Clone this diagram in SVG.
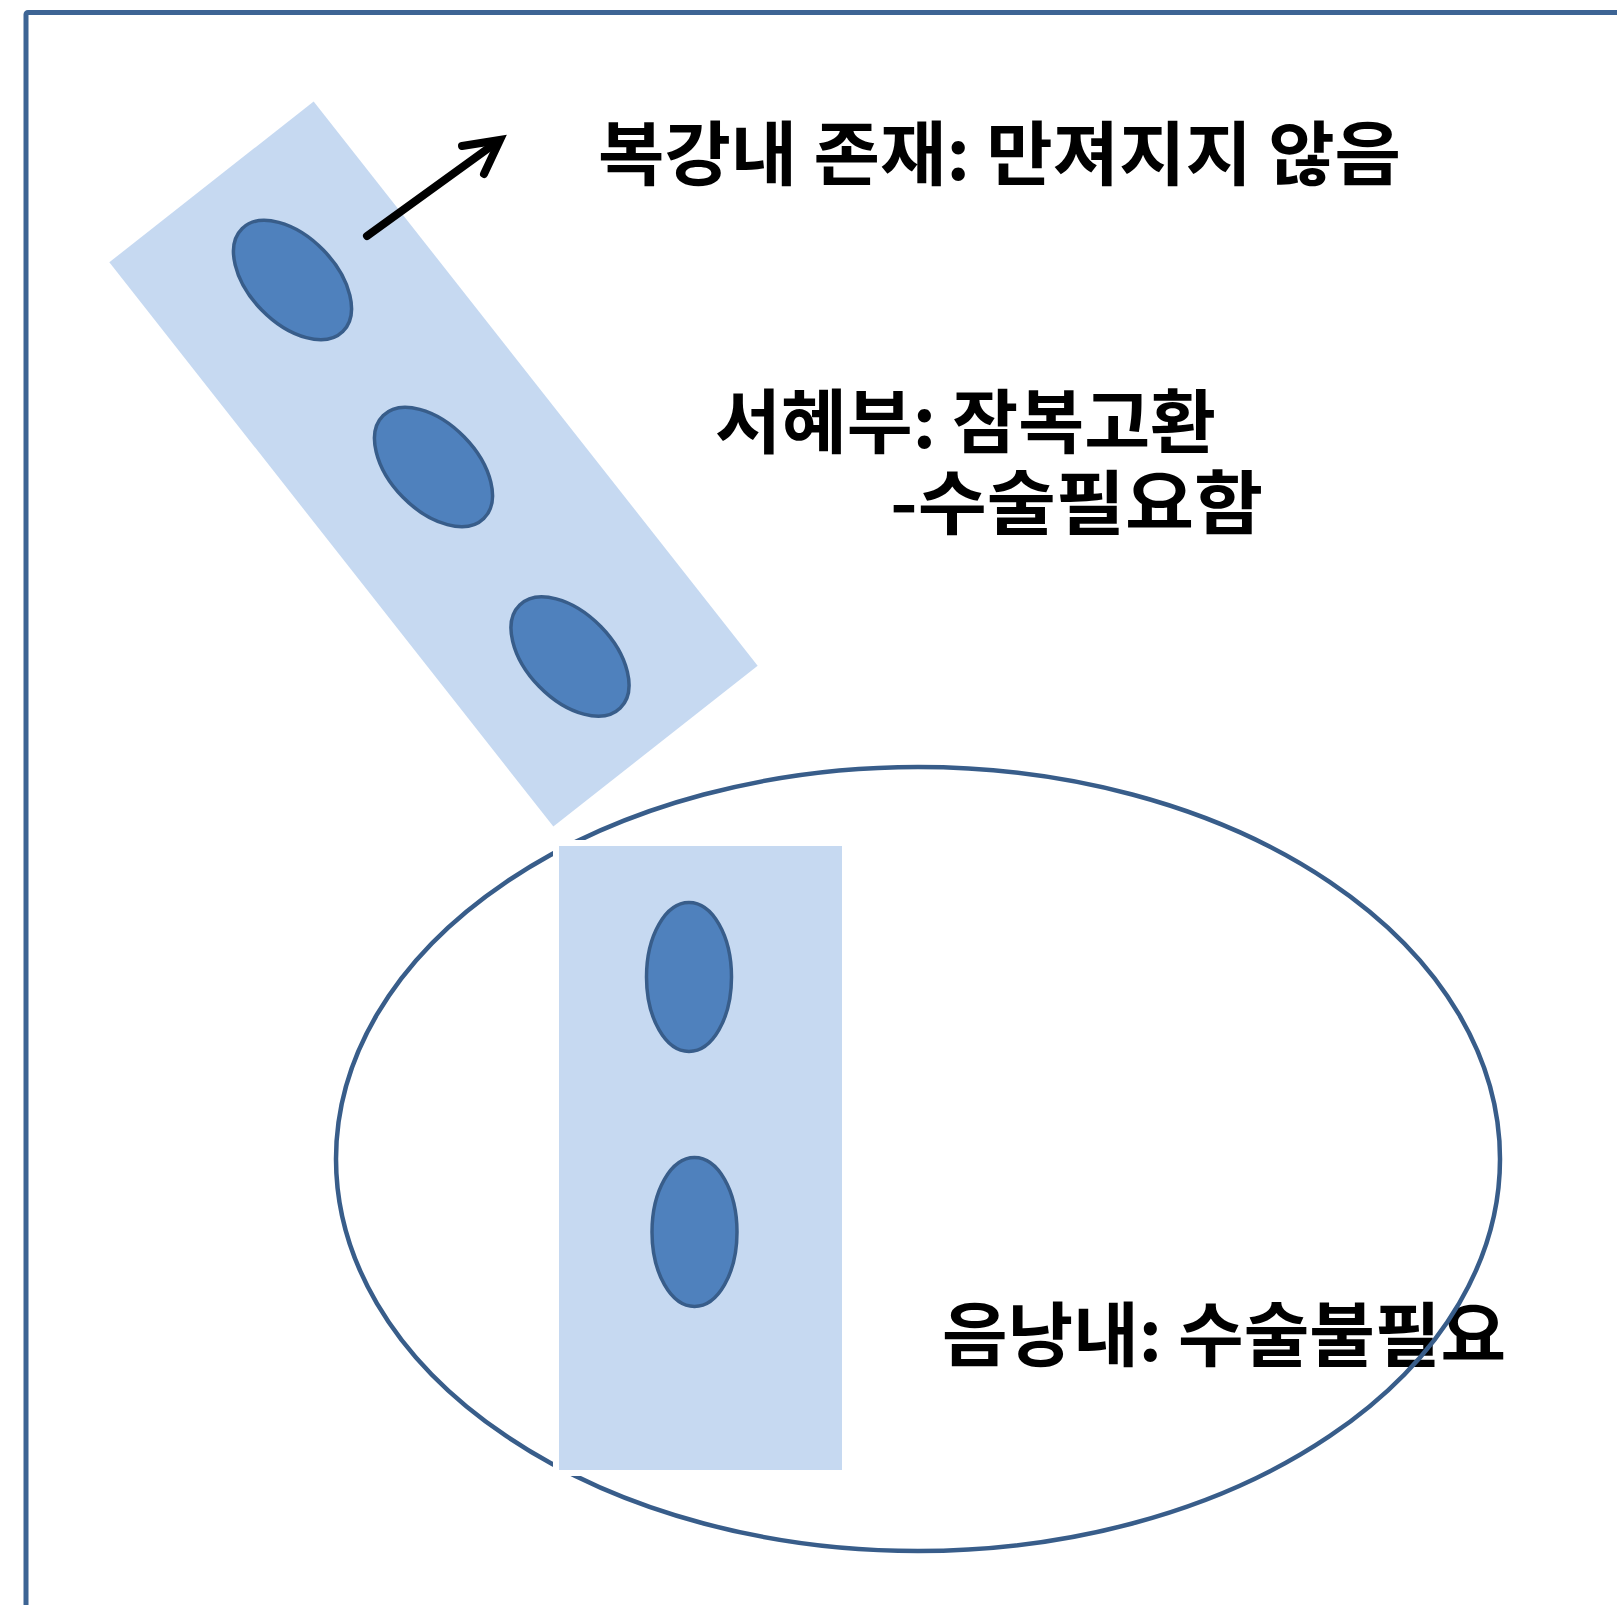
<svg xmlns="http://www.w3.org/2000/svg" width="1617" height="1605" viewBox="0 0 1617 1605">
<style>
  .frame { fill: none; stroke: #3d6494; stroke-width: 5; }
  .band { fill: #c6d9f1; stroke: #ffffff; stroke-width: 12; paint-order: stroke; }
  .cell { fill: #4f81bd; stroke: #385d8a; stroke-width: 3.5; }
  .sac { fill: none; stroke: #385d8a; stroke-width: 4.5; }
  .label { font-family: "Noto Sans CJK KR", "Noto Sans", sans-serif; font-weight: 700; font-size: 70px; fill: #000000; }
  .arrow { fill: none; stroke: #000000; stroke-width: 8; stroke-linecap: round; stroke-linejoin: miter; }
</style>
<rect x="0" y="0" width="1617" height="1605" fill="#ffffff"/>
<rect id="frame" class="frame" x="26" y="12.5" width="1700" height="1700" rx="2"/>

<g id="label-abdominal">
  <text class="label" x="598" y="180" textLength="803" lengthAdjust="spacingAndGlyphs">복강내 존재: 만져지지 않음</text>
</g>
<g id="label-inguinal">
  <text class="label" x="715" y="448" textLength="501" lengthAdjust="spacingAndGlyphs">서혜부: 잠복고환</text>
  <text class="label" x="890" y="529" textLength="373" lengthAdjust="spacingAndGlyphs">-수술필요함</text>
</g>
<g id="label-scrotal">
  <text class="label" x="942" y="1361" textLength="564" lengthAdjust="spacingAndGlyphs">음낭내: 수술불필요</text>
</g>

<g id="scrotum">
  <ellipse class="sac" cx="918" cy="1159" rx="582" ry="392"/>
</g>

<g id="inguinal-canal">
  <rect class="band" x="-359" y="-130" width="718" height="260" transform="translate(433.5,464) rotate(51.8)"/>
  <ellipse class="cell" cx="0" cy="0" rx="72" ry="43" transform="translate(292.5,280) rotate(45.7)"/>
  <ellipse class="cell" cx="0" cy="0" rx="72" ry="43" transform="translate(433.5,467) rotate(45.7)"/>
  <ellipse class="cell" cx="0" cy="0" rx="72" ry="43" transform="translate(570,656.5) rotate(45.7)"/>
</g>

<g id="scrotal-column">
  <rect class="band" x="559" y="846" width="283" height="624"/>
  <ellipse class="cell" cx="689" cy="977" rx="42.5" ry="74.5"/>
  <ellipse class="cell" cx="694.5" cy="1232" rx="42.5" ry="74.5"/>
</g>

<g id="connectors">
  <line class="arrow" x1="367" y1="236" x2="497" y2="142"/>
  <polyline class="arrow" points="462,146 500,140 484,174"/>
</g>
</svg>
